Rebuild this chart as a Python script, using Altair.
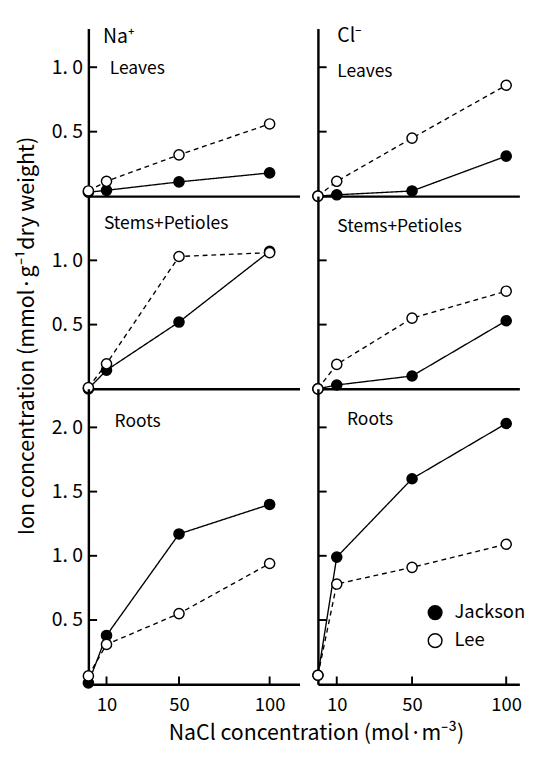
import altair as alt
import pandas as pd

FONT = "Noto Sans CJK JP"

# ---- data ----
conc = [0, 10, 50, 100]
cultivars = ["Jackson", "Lee"]

na_leaves_jackson = [0.03, 0.045, 0.11, 0.18]
na_leaves_lee = [0.04, 0.115, 0.32, 0.56]
cl_leaves_jackson = [0.0, 0.01, 0.04, 0.31]
cl_leaves_lee = [0.0, 0.115, 0.45, 0.86]

na_stems_jackson = [0.0, 0.145, 0.52, 1.07]
na_stems_lee = [0.01, 0.195, 1.03, 1.06]
cl_stems_jackson = [0.0, 0.03, 0.10, 0.53]
cl_stems_lee = [0.0, 0.19, 0.55, 0.76]

na_roots_jackson = [0.01, 0.38, 1.17, 1.40]
na_roots_lee = [0.065, 0.31, 0.55, 0.94]
cl_roots_jackson = [0.07, 0.99, 1.60, 2.03]
cl_roots_lee = [0.07, 0.78, 0.91, 1.09]

ions = ["Na⁺", "Cl⁻"]
organs = ["Leaves", "Stems+Petioles", "Roots"]
x_ticks = [10, 50, 100]
y_ticks = [[0.5, 1.0], [0.5, 1.0], [0.5, 1.0, 1.5, 2.0]]
y_domains = [[0, 1.3], [0, 1.5], [0, 2.3]]

series = {
    (0, 0): (na_leaves_jackson, na_leaves_lee),
    (1, 0): (cl_leaves_jackson, cl_leaves_lee),
    (0, 1): (na_stems_jackson, na_stems_lee),
    (1, 1): (cl_stems_jackson, cl_stems_lee),
    (0, 2): (na_roots_jackson, na_roots_lee),
    (1, 2): (cl_roots_jackson, cl_roots_lee),
}

y_title = "Ion concentration (mmol·g⁻¹dry weight)"
x_title = "NaCl concentration (mol·m⁻³)"

# ---- layout (pixels) ----
col_width = [218, 208]
x_domains = [[0, 116.5], [0, 107]]
row_height = [173, 199, 305]
organ_pos = {
    (0, 0): (22, 42), (1, 0): (20, 45),
    (0, 1): (16, 29), (1, 1): (20, 32),
    (0, 2): (27, 34), (1, 2): (30, 32),
}
ion_pos = [(15, 9), (20, 8)]
legend_pos = [(121, 231), (121, 260)]   # in the Cl⁻ / Roots panel

fill_scale = alt.Scale(domain=cultivars, range=["black", "white"])


def panel(ci, ri):
    jackson, lee = series[(ci, ri)]
    df = pd.DataFrame({
        "conc": conc * 2,
        "value": jackson + lee,
        "cultivar": ["Jackson"] * 4 + ["Lee"] * 4,
    })
    w, h = col_width[ci], row_height[ri]
    xscale = alt.Scale(domain=x_domains[ci], nice=False, zero=False)
    yscale = alt.Scale(domain=y_domains[ri], nice=False, zero=False)
    bottom = ri == 2
    left = ci == 0

    xkw = dict(values=x_ticks, labels=bottom, ticks=False, grid=False,
               domainColor="black", domainWidth=2.5,
               labelFont=FONT, labelFontSize=19, labelColor="black",
               labelPadding=12, title=None)
    if bottom and left:
        xkw.update(title=x_title, titleFont=FONT, titleFontSize=22,
                   titleFontWeight="normal", titleColor="black",
                   titleX=235, titleY=50, titleBaseline="middle")
    xaxis = alt.Axis(**xkw)

    ykw = dict(values=y_ticks[ri], labels=left, ticks=False, grid=False,
               domainColor="black", domainWidth=2.5,
               labelFont=FONT, labelFontSize=20, labelColor="black",
               labelPadding=6,
               labelExpr="replace(format(datum.value, '.1f'), '.', '. ')",
               title=None)
    if left and ri == 1:
        ykw.update(title=y_title, titleFont=FONT, titleFontSize=22,
                   titleFontWeight="normal", titleColor="black",
                   titleY=144, titlePadding=13)
    yaxis = alt.Axis(**ykw)

    line = alt.Chart(df).mark_line(color="black", strokeWidth=1.4).encode(
        x=alt.X("conc:Q", scale=xscale, axis=xaxis),
        y=alt.Y("value:Q", scale=yscale, axis=yaxis),
        strokeDash=alt.StrokeDash("cultivar:N",
                                  scale=alt.Scale(domain=cultivars, range=[[1, 0], [5, 4]]),
                                  legend=None),
        detail="cultivar:N",
    )
    pts = alt.Chart(df).mark_point(shape="circle", filled=True, stroke="black",
                                   strokeWidth=1.5, size=110, opacity=1,
                                   fillOpacity=1).encode(
        x=alt.X("conc:Q", scale=xscale, axis=xaxis),
        y=alt.Y("value:Q", scale=yscale, axis=yaxis),
        fill=alt.Fill("cultivar:N", scale=fill_scale, legend=None),
    )
    yt = alt.Chart(pd.DataFrame({"t": y_ticks[ri]})).mark_rule(
        color="black", strokeWidth=2).encode(
        y=alt.Y("t:Q", scale=yscale, axis=yaxis),
        x=alt.value(0), x2=alt.value(9),
    )
    layers = [yt, line, pts]
    if bottom:
        xt = alt.Chart(pd.DataFrame({"t": x_ticks})).mark_rule(
            color="black", strokeWidth=2).encode(
            x=alt.X("t:Q", scale=xscale, axis=xaxis),
            y=alt.value(h), y2=alt.value(h - 8),
        )
        layers.append(xt)
    ox, oy = organ_pos[(ci, ri)]
    layers.append(
        alt.Chart(pd.DataFrame({"label": [organs[ri]]})).mark_text(
            align="left", baseline="middle", font=FONT, fontSize=18,
            color="black").encode(x=alt.value(ox), y=alt.value(oy), text="label:N")
    )
    if ri == 0:
        ix, iy = ion_pos[ci]
        layers.append(
            alt.Chart(pd.DataFrame({"label": [ions[ci]]})).mark_text(
                align="left", baseline="middle", font=FONT, fontSize=20,
                color="black").encode(x=alt.value(ix), y=alt.value(iy), text="label:N")
        )
    if ci == 1 and ri == 2:
        # legend drawn inside the panel, as in the figure
        for name, (lx, ly) in zip(cultivars, legend_pos):
            ldf = pd.DataFrame({"cultivar": [name]})
            layers.append(
                alt.Chart(ldf).mark_point(shape="circle", filled=True, stroke="black",
                                          strokeWidth=1.5, size=200, opacity=1,
                                          fillOpacity=1).encode(
                    x=alt.value(lx), y=alt.value(ly),
                    fill=alt.Fill("cultivar:N", scale=fill_scale, legend=None))
            )
            layers.append(
                alt.Chart(ldf).mark_text(align="left", baseline="middle", font=FONT,
                                         fontSize=19, color="black").encode(
                    x=alt.value(lx + 20), y=alt.value(ly), text="cultivar:N")
            )
    return alt.layer(*layers).properties(width=w, height=h)


charts = [panel(ci, ri) for ri in range(3) for ci in range(2)]

chart = alt.concat(
    *charts, columns=2, spacing={"row": 0, "column": 19},
    bounds="flush", align="each",
).resolve_scale(
    x="independent", y="independent", fill="shared", strokeDash="shared"
).properties(
    padding={"left": 8, "top": 7, "right": 5, "bottom": 5}
).configure_view(stroke=None)

chart.save("out.html", embed_options={"renderer": "svg", "actions": False})
